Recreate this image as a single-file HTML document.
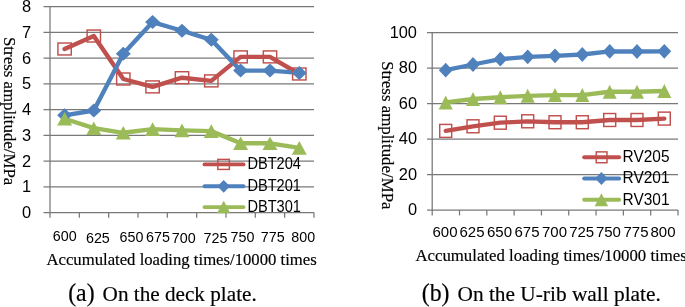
<!DOCTYPE html><html><head><meta charset="utf-8"><style>html,body{margin:0;padding:0;background:#fff;width:685px;height:307px;overflow:hidden}svg{display:block;filter:blur(0.3px)}.s{font-family:"Liberation Sans",sans-serif;fill:#000}.r{font-family:"Liberation Serif",serif;fill:#000;stroke:#000;stroke-width:0.18px}text{filter:grayscale(1)}</style></head><body>
<svg width="685" height="307" viewBox="0 0 685 307">
<rect width="685" height="307" fill="#fff"/>
<g stroke="#787878" stroke-width="1.25" fill="none">
<line x1="43.5" y1="6.50" x2="314" y2="6.50"/>
<line x1="43.5" y1="32.25" x2="314" y2="32.25"/>
<line x1="43.5" y1="58.00" x2="314" y2="58.00"/>
<line x1="43.5" y1="83.75" x2="314" y2="83.75"/>
<line x1="43.5" y1="109.50" x2="314" y2="109.50"/>
<line x1="43.5" y1="135.25" x2="314" y2="135.25"/>
<line x1="43.5" y1="161.00" x2="314" y2="161.00"/>
<line x1="43.5" y1="186.75" x2="314" y2="186.75"/>
<line x1="43.5" y1="212.5" x2="314" y2="212.5"/>
<line x1="50" y1="6.5" x2="50" y2="217.7"/>
<line x1="79.33" y1="212.5" x2="79.33" y2="217.7"/>
<line x1="108.66" y1="212.5" x2="108.66" y2="217.7"/>
<line x1="137.99" y1="212.5" x2="137.99" y2="217.7"/>
<line x1="167.32" y1="212.5" x2="167.32" y2="217.7"/>
<line x1="196.65" y1="212.5" x2="196.65" y2="217.7"/>
<line x1="225.98" y1="212.5" x2="225.98" y2="217.7"/>
<line x1="255.31" y1="212.5" x2="255.31" y2="217.7"/>
<line x1="284.64" y1="212.5" x2="284.64" y2="217.7"/>
<line x1="313.97" y1="212.5" x2="313.97" y2="217.7"/>
</g>
<g class="s" font-size="16.4" text-anchor="end">
<text x="31" y="12.20">8</text>
<text x="31" y="37.95">7</text>
<text x="31" y="63.70">6</text>
<text x="31" y="89.45">5</text>
<text x="31" y="115.20">4</text>
<text x="31" y="140.95">3</text>
<text x="31" y="166.70">2</text>
<text x="31" y="192.45">1</text>
<text x="31" y="218.20">0</text>
</g>
<g class="s" font-size="14.3" text-anchor="middle">
<text x="64.7" y="241.2">600</text>
<text x="97.9" y="242.6">625</text>
<text x="131.5" y="242.0">650</text>
<text x="158" y="242.0">675</text>
<text x="183.8" y="242.6">700</text>
<text x="215.5" y="243.0">725</text>
<text x="242.5" y="242.0">750</text>
<text x="272.8" y="242.0">775</text>
<text x="303.3" y="242.0">800</text>
</g>
<path d="M64.60,49.00 L93.80,36.00 L123.30,79.00 L152.60,86.90 L182.00,77.70 L211.30,80.90 L240.60,56.90 L270.00,56.90 L299.30,74.00" fill="none" stroke="#C0504D" stroke-width="4.4" stroke-linejoin="round" stroke-linecap="round"/>
<path d="M64.60,115.30 L93.80,110.50 L123.30,53.75 L152.60,22.10 L182.00,30.75 L211.30,39.80 L240.60,70.60 L270.00,70.60 L299.30,72.90" fill="none" stroke="#4F81BD" stroke-width="4.4" stroke-linejoin="round" stroke-linecap="round"/>
<path d="M64.60,118.75 L93.80,128.20 L123.30,132.80 L152.60,129.15 L182.00,130.40 L211.30,131.10 L240.60,143.30 L270.00,143.30 L299.30,147.90" fill="none" stroke="#9BBB59" stroke-width="4.4" stroke-linejoin="round" stroke-linecap="round"/>
<rect x="57.92" y="43.02" width="13.35" height="11.95" fill="none" stroke="#C0504D" stroke-width="1.45"/>
<rect x="87.12" y="30.03" width="13.35" height="11.95" fill="none" stroke="#C0504D" stroke-width="1.45"/>
<rect x="116.62" y="73.02" width="13.35" height="11.95" fill="none" stroke="#C0504D" stroke-width="1.45"/>
<rect x="145.92" y="80.92" width="13.35" height="11.95" fill="none" stroke="#C0504D" stroke-width="1.45"/>
<rect x="175.32" y="71.72" width="13.35" height="11.95" fill="none" stroke="#C0504D" stroke-width="1.45"/>
<rect x="204.62" y="74.92" width="13.35" height="11.95" fill="none" stroke="#C0504D" stroke-width="1.45"/>
<rect x="233.92" y="50.92" width="13.35" height="11.95" fill="none" stroke="#C0504D" stroke-width="1.45"/>
<rect x="263.33" y="50.92" width="13.35" height="11.95" fill="none" stroke="#C0504D" stroke-width="1.45"/>
<rect x="292.63" y="68.02" width="13.35" height="11.95" fill="none" stroke="#C0504D" stroke-width="1.45"/>
<path d="M64.60,108.30 L72.10,115.30 L64.60,122.30 L57.10,115.30 Z" fill="#4F81BD"/>
<path d="M93.80,103.50 L101.30,110.50 L93.80,117.50 L86.30,110.50 Z" fill="#4F81BD"/>
<path d="M123.30,46.75 L130.80,53.75 L123.30,60.75 L115.80,53.75 Z" fill="#4F81BD"/>
<path d="M152.60,15.10 L160.10,22.10 L152.60,29.10 L145.10,22.10 Z" fill="#4F81BD"/>
<path d="M182.00,23.75 L189.50,30.75 L182.00,37.75 L174.50,30.75 Z" fill="#4F81BD"/>
<path d="M211.30,32.80 L218.80,39.80 L211.30,46.80 L203.80,39.80 Z" fill="#4F81BD"/>
<path d="M240.60,63.60 L248.10,70.60 L240.60,77.60 L233.10,70.60 Z" fill="#4F81BD"/>
<path d="M270.00,63.60 L277.50,70.60 L270.00,77.60 L262.50,70.60 Z" fill="#4F81BD"/>
<path d="M299.30,65.90 L306.80,72.90 L299.30,79.90 L291.80,72.90 Z" fill="#4F81BD"/>
<path d="M64.60,111.95 L72.10,125.55 L57.10,125.55 Z" fill="#9BBB59"/>
<path d="M93.80,121.40 L101.30,135.00 L86.30,135.00 Z" fill="#9BBB59"/>
<path d="M123.30,126.00 L130.80,139.60 L115.80,139.60 Z" fill="#9BBB59"/>
<path d="M152.60,122.35 L160.10,135.95 L145.10,135.95 Z" fill="#9BBB59"/>
<path d="M182.00,123.60 L189.50,137.20 L174.50,137.20 Z" fill="#9BBB59"/>
<path d="M211.30,124.30 L218.80,137.90 L203.80,137.90 Z" fill="#9BBB59"/>
<path d="M240.60,136.50 L248.10,150.10 L233.10,150.10 Z" fill="#9BBB59"/>
<path d="M270.00,136.50 L277.50,150.10 L262.50,150.10 Z" fill="#9BBB59"/>
<path d="M299.30,141.10 L306.80,154.70 L291.80,154.70 Z" fill="#9BBB59"/>
<line x1="204.5" y1="164.4" x2="243.5" y2="164.4" stroke="#C0504D" stroke-width="3.9" stroke-linecap="round"/>
<rect x="217.82" y="159.38" width="11.55" height="10.05" fill="none" stroke="#C0504D" stroke-width="1.45"/>
<text class="s" font-size="16.4" transform="translate(247.4,168.90) scale(0.89,1)">DBT204</text>
<line x1="204.5" y1="186.3" x2="243.5" y2="186.3" stroke="#4F81BD" stroke-width="3.9" stroke-linecap="round"/>
<path d="M223.70,179.90 L229.95,186.30 L223.70,192.70 L217.45,186.30 Z" fill="#4F81BD"/>
<text class="s" font-size="16.4" transform="translate(247.4,190.80) scale(0.89,1)">DBT201</text>
<line x1="204.5" y1="207.1" x2="243.5" y2="207.1" stroke="#9BBB59" stroke-width="3.9" stroke-linecap="round"/>
<path d="M223.70,200.85 L230.45,213.35 L216.95,213.35 Z" fill="#9BBB59"/>
<text class="s" font-size="16.4" transform="translate(247.4,211.60) scale(0.89,1)">DBT301</text>
<text class="r" font-size="16.85" transform="translate(4.1,37.0) rotate(90)">Stress amplitude/MPa</text>
<text class="r" font-size="16.7" x="46.5" y="265.4">Accumulated loading times/10000 times</text>
<text class="r" font-size="23.8" stroke="#000" stroke-width="0.2" transform="translate(68.2,301.3) scale(1,1.06)">(a)</text>
<text class="r" font-size="21.2" x="102.6" y="301.3">On the deck plate.</text>
<g stroke="#787878" stroke-width="1.25" fill="none">
<line x1="427" y1="32.50" x2="678" y2="32.50"/>
<line x1="427" y1="68.00" x2="678" y2="68.00"/>
<line x1="427" y1="103.50" x2="678" y2="103.50"/>
<line x1="427" y1="139.00" x2="678" y2="139.00"/>
<line x1="427" y1="174.50" x2="678" y2="174.50"/>
<line x1="427" y1="210" x2="678" y2="210"/>
<line x1="432.2" y1="32.5" x2="432.2" y2="215.4"/>
<line x1="459.51" y1="210" x2="459.51" y2="215.4"/>
<line x1="486.82" y1="210" x2="486.82" y2="215.4"/>
<line x1="514.13" y1="210" x2="514.13" y2="215.4"/>
<line x1="541.44" y1="210" x2="541.44" y2="215.4"/>
<line x1="568.75" y1="210" x2="568.75" y2="215.4"/>
<line x1="596.06" y1="210" x2="596.06" y2="215.4"/>
<line x1="623.37" y1="210" x2="623.37" y2="215.4"/>
<line x1="650.68" y1="210" x2="650.68" y2="215.4"/>
<line x1="677.99" y1="210" x2="677.99" y2="215.4"/>
</g>
<g class="s" font-size="16.4" text-anchor="end">
<text x="417" y="37.60">100</text>
<text x="417" y="73.10">80</text>
<text x="417" y="108.60">60</text>
<text x="417" y="144.10">40</text>
<text x="417" y="179.60">20</text>
<text x="417" y="215.10">0</text>
</g>
<g class="s" font-size="15" text-anchor="middle">
<text x="445" y="237.3">600</text>
<text x="472" y="237.3">625</text>
<text x="499.5" y="237.3">650</text>
<text x="527" y="237.3">675</text>
<text x="554.5" y="237.3">700</text>
<text x="581.7" y="237.3">725</text>
<text x="608.4" y="237.3">750</text>
<text x="636" y="237.3">775</text>
<text x="663" y="237.3">800</text>
</g>
<path d="M445.70,130.90 L473.00,126.30 L500.30,122.70 L527.70,121.30 L555.00,122.25 L582.30,122.25 L609.70,120.00 L637.00,120.00 L664.30,118.60" fill="none" stroke="#C0504D" stroke-width="4.3" stroke-linejoin="round" stroke-linecap="round"/>
<path d="M445.70,70.20 L473.00,64.50 L500.30,59.20 L527.70,56.80 L555.00,55.85 L582.30,54.50 L609.70,51.40 L637.00,51.50 L664.30,51.30" fill="none" stroke="#4F81BD" stroke-width="4.3" stroke-linejoin="round" stroke-linecap="round"/>
<path d="M445.70,102.45 L473.00,99.00 L500.30,97.25 L527.70,95.85 L555.00,95.10 L582.30,95.10 L609.70,91.75 L637.00,91.75 L664.30,91.00" fill="none" stroke="#9BBB59" stroke-width="4.3" stroke-linejoin="round" stroke-linecap="round"/>
<rect x="439.73" y="124.42" width="11.95" height="12.95" fill="none" stroke="#C0504D" stroke-width="1.45"/>
<rect x="467.03" y="119.82" width="11.95" height="12.95" fill="none" stroke="#C0504D" stroke-width="1.45"/>
<rect x="494.33" y="116.22" width="11.95" height="12.95" fill="none" stroke="#C0504D" stroke-width="1.45"/>
<rect x="521.73" y="114.82" width="11.95" height="12.95" fill="none" stroke="#C0504D" stroke-width="1.45"/>
<rect x="549.02" y="115.77" width="11.95" height="12.95" fill="none" stroke="#C0504D" stroke-width="1.45"/>
<rect x="576.32" y="115.77" width="11.95" height="12.95" fill="none" stroke="#C0504D" stroke-width="1.45"/>
<rect x="603.73" y="113.52" width="11.95" height="12.95" fill="none" stroke="#C0504D" stroke-width="1.45"/>
<rect x="631.02" y="113.52" width="11.95" height="12.95" fill="none" stroke="#C0504D" stroke-width="1.45"/>
<rect x="658.32" y="112.12" width="11.95" height="12.95" fill="none" stroke="#C0504D" stroke-width="1.45"/>
<path d="M445.70,62.80 L452.60,70.20 L445.70,77.60 L438.80,70.20 Z" fill="#4F81BD"/>
<path d="M473.00,57.10 L479.90,64.50 L473.00,71.90 L466.10,64.50 Z" fill="#4F81BD"/>
<path d="M500.30,51.80 L507.20,59.20 L500.30,66.60 L493.40,59.20 Z" fill="#4F81BD"/>
<path d="M527.70,49.40 L534.60,56.80 L527.70,64.20 L520.80,56.80 Z" fill="#4F81BD"/>
<path d="M555.00,48.45 L561.90,55.85 L555.00,63.25 L548.10,55.85 Z" fill="#4F81BD"/>
<path d="M582.30,47.10 L589.20,54.50 L582.30,61.90 L575.40,54.50 Z" fill="#4F81BD"/>
<path d="M609.70,44.00 L616.60,51.40 L609.70,58.80 L602.80,51.40 Z" fill="#4F81BD"/>
<path d="M637.00,44.10 L643.90,51.50 L637.00,58.90 L630.10,51.50 Z" fill="#4F81BD"/>
<path d="M664.30,43.90 L671.20,51.30 L664.30,58.70 L657.40,51.30 Z" fill="#4F81BD"/>
<path d="M445.70,95.45 L452.70,109.45 L438.70,109.45 Z" fill="#9BBB59"/>
<path d="M473.00,92.00 L480.00,106.00 L466.00,106.00 Z" fill="#9BBB59"/>
<path d="M500.30,90.25 L507.30,104.25 L493.30,104.25 Z" fill="#9BBB59"/>
<path d="M527.70,88.85 L534.70,102.85 L520.70,102.85 Z" fill="#9BBB59"/>
<path d="M555.00,88.10 L562.00,102.10 L548.00,102.10 Z" fill="#9BBB59"/>
<path d="M582.30,88.10 L589.30,102.10 L575.30,102.10 Z" fill="#9BBB59"/>
<path d="M609.70,84.75 L616.70,98.75 L602.70,98.75 Z" fill="#9BBB59"/>
<path d="M637.00,84.75 L644.00,98.75 L630.00,98.75 Z" fill="#9BBB59"/>
<path d="M664.30,84.00 L671.30,98.00 L657.30,98.00 Z" fill="#9BBB59"/>
<line x1="584.2" y1="157.3" x2="619.1" y2="157.3" stroke="#C0504D" stroke-width="4.0" stroke-linecap="round"/>
<rect x="596.23" y="151.88" width="10.75" height="10.85" fill="none" stroke="#C0504D" stroke-width="1.45"/>
<text class="s" font-size="17.3" transform="translate(622.6,162.20) scale(0.893,1)">RV205</text>
<line x1="584.2" y1="178.5" x2="619.1" y2="178.5" stroke="#4F81BD" stroke-width="4.0" stroke-linecap="round"/>
<path d="M601.40,172.00 L607.65,178.50 L601.40,185.00 L595.15,178.50 Z" fill="#4F81BD"/>
<text class="s" font-size="17.3" transform="translate(622.6,183.40) scale(0.893,1)">RV201</text>
<line x1="584.2" y1="199.8" x2="619.1" y2="199.8" stroke="#9BBB59" stroke-width="4.0" stroke-linecap="round"/>
<path d="M601.40,193.30 L608.15,206.30 L594.65,206.30 Z" fill="#9BBB59"/>
<text class="s" font-size="17.3" transform="translate(622.6,204.70) scale(0.893,1)">RV301</text>
<text class="r" font-size="16.85" transform="translate(381.7,61.2) rotate(90)">Stress amplitude/MPa</text>
<text class="r" font-size="16.75" x="415.5" y="260.9">Accumulated loading times/10000 times</text>
<text class="r" font-size="23.8" stroke="#000" stroke-width="0.2" transform="translate(421.8,301.3) scale(1,1.06)">(b)</text>
<text class="r" font-size="21.35" x="457.5" y="301.3">On the U-rib wall plate.</text>
</svg></body></html>
